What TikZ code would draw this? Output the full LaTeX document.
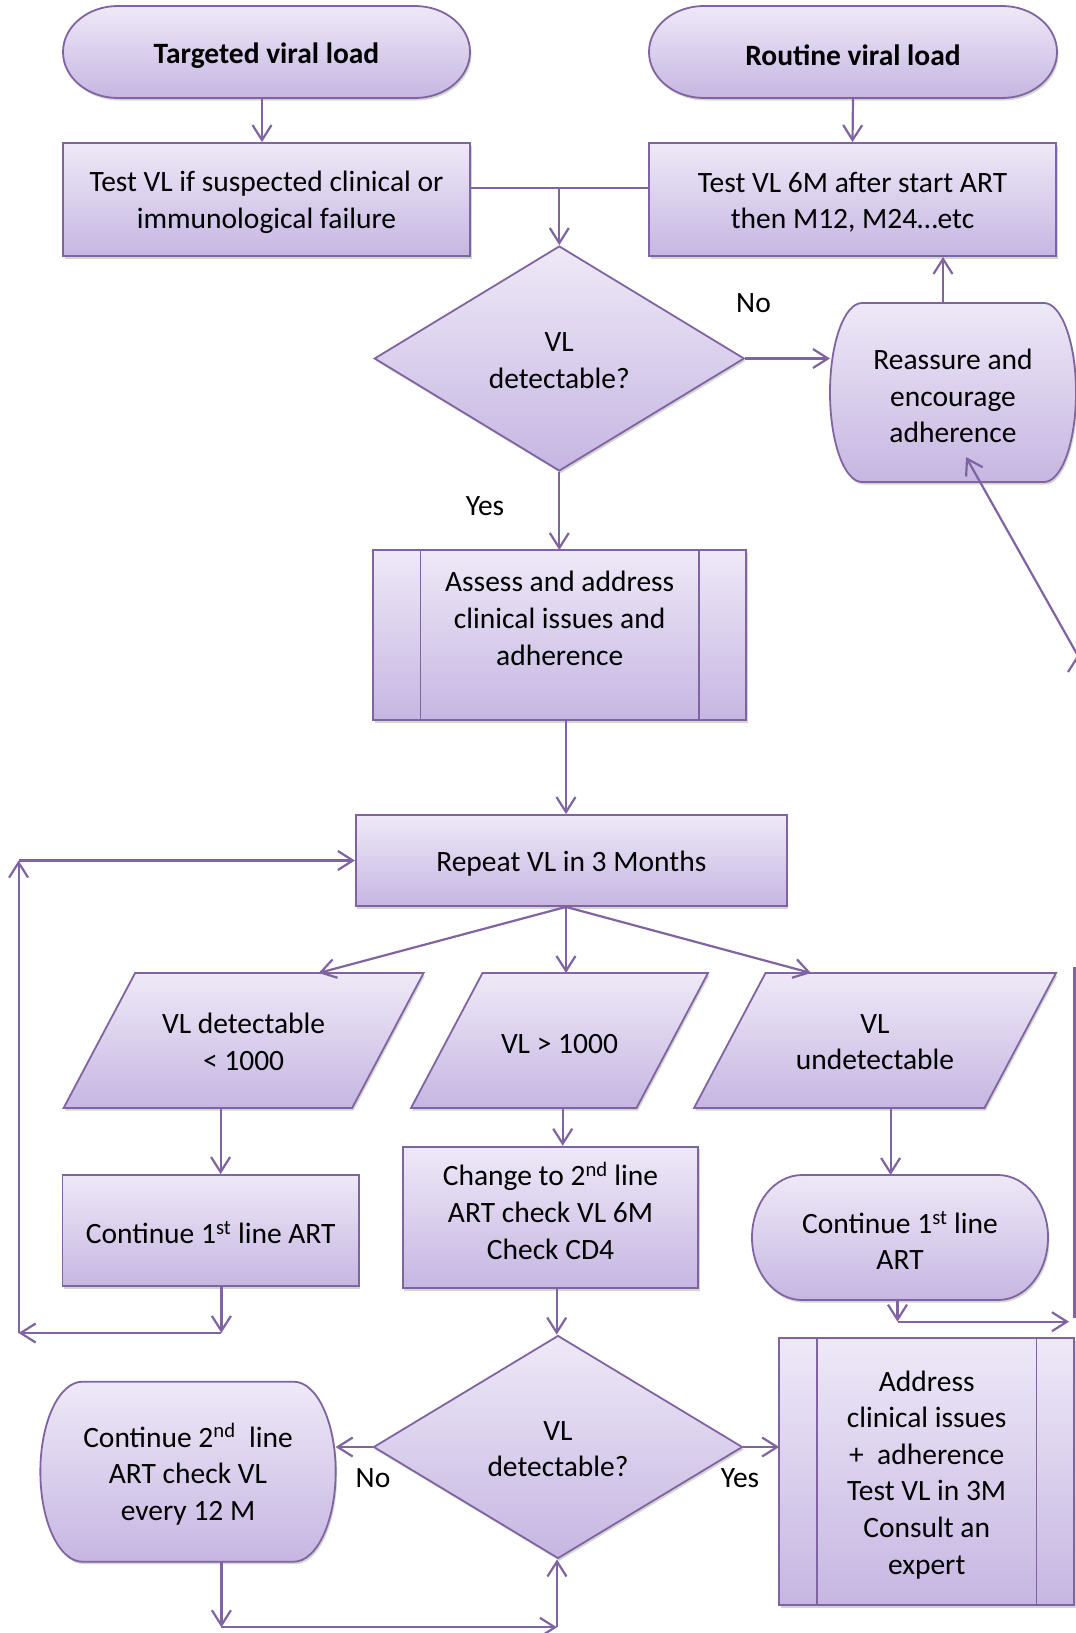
\documentclass[tikz,border=0pt]{standalone}
\usepackage{fontspec}
\setmainfont{Carlito}
\usetikzlibrary{arrows.meta,calc,shapes.geometric,shadows,backgrounds}

\definecolor{edge}{RGB}{128,100,162}
\definecolor{ftop}{RGB}{238,233,247}
\definecolor{fbot}{RGB}{198,182,226}

\tikzset{
  shapefill/.style={draw=edge, line width=1.8pt, top color=ftop, bottom color=fbot,
    drop shadow={shadow xshift=1.5pt, shadow yshift=-2.5pt, opacity=0.28, fill=black!60}},
  sz/.style 2 args={minimum width=#1pt, minimum height=#2pt},
  lowered/.style={execute at begin node={\rule{0pt}{27pt}}},
  anchorbox/.style={rectangle, draw=none, fill=none, inner sep=0pt, outer sep=0pt, align=center, lowered},
  boxnode/.style={rectangle, shapefill, inner sep=0pt, align=center, lowered},
  decision/.style={diamond, shapefill, inner sep=0pt, align=center},
  txt/.style={inner sep=0pt, align=center},
  lbl/.style={inner sep=0pt},
  conn/.style={draw=edge, line width=2.2pt},
  arr/.style={conn, -{Straight Barb[length=15pt,width=19pt]}},
}

% rectangle whose short sides are elliptical arcs (terminator / rounded process)
\newcommand\capsule[3]{%
  \path[shapefill] ($(#1.north west)+(#2,0)$) -- ($(#1.north east)+(-#2,0)$)
    arc[start angle=90, end angle=-90, x radius=#2pt, y radius=#3pt]
    -- ($(#1.south west)+(#2,0)$)
    arc[start angle=270, end angle=90, x radius=#2pt, y radius=#3pt] -- cycle;}
% predefined process: box with two inner vertical rules
\newcommand\procbox[2]{%
  \path[shapefill] (#1.north west) rectangle (#1.south east);
  \draw[draw=edge, line width=1.8pt] ($(#1.north west)+(#2,0)$) -- ($(#1.south west)+(#2,0)$);
  \draw[draw=edge, line width=1.8pt] ($(#1.north east)+(-#2,0)$) -- ($(#1.south east)+(-#2,0)$);}
% data box: parallelogram leaning right
\newcommand\slantbox[2]{%
  \path[shapefill] (#1.south west) -- ($(#1.north west)+(#2,0)$) -- (#1.north east)
    -- ($(#1.south east)+(-#2,0)$) -- cycle;}

\begin{document}
\begin{tikzpicture}[x=1pt, y=-1pt,
  every node/.style={font=\fontsize{29.5pt}{36.6pt}\selectfont}]
\useasboundingbox (0,0) rectangle (1076,1633);

% ---- shapes (outlined nodes and anchor boxes) ----
\node[anchorbox, sz={407}{92}] (t1) at (266.5,52) {\bfseries Targeted viral load};
\node[anchorbox, sz={408}{92}] (t2) at (853,52) {\bfseries Routine viral load};
\node[boxnode, sz={407}{113}] (b1) at (266.5,199.5) {};
\node[boxnode, sz={407}{113}] (b2) at (852.5,199.5) {};
\node[decision, sz={370}{225}] (d1) at (559.3,358.5) {};
\node[anchorbox, sz={246}{179}] (re) at (953,392.5) {};
\node[anchorbox, sz={373}{170}] (as) at (559.7,635) {};
\node[boxnode, sz={431}{91}] (rp) at (571.3,860.5) {Repeat VL in 3 Months};
\node[anchorbox, sz={360}{135}] (p1) at (243.6,1040.5) {};
\node[anchorbox, sz={297}{135}] (p2) at (559.5,1040.5) {VL > 1000};
\node[anchorbox, sz={362}{135}] (p3) at (875,1040.5) {};
\node[boxnode, sz={296.5}{111}] (c1) at (210.7,1230.5) {Continue 1\textsuperscript{st} line ART};
\node[boxnode, sz={295.6}{141.7}] (ch) at (550.5,1217.5) {};
\node[anchorbox, sz={296}{125}] (c3) at (900,1237.5) {};
\node[decision, sz={369}{223}] (d2) at (558,1447) {};
\node[anchorbox, sz={295.3}{180}] (c2) at (188,1471.7) {};
\node[anchorbox, sz={295}{267}] (ad) at (926.7,1471.7) {};

% ---- multi-line texts ----
\node[txt] (b1text) at ($(b1)+(0,2.6)$) {Test VL if suspected clinical or\\immunological failure};
\node[txt] (b2text) at ($(b2)+(0,2.6)$) {Test VL 6M after start ART\\then M12, M24…etc};
\node[txt] (d1text) at ($(d1)+(0,2)$) {VL\\detectable?};
\node[txt] (retext) at ($(re)+(0,3.5)$) {Reassure and\\encourage\\adherence};
\node[txt] (astext) at (559.7,618.3) {Assess and address\\clinical issues and\\adherence};
\node[txt] (p1text) at ($(p1)+(0,1.5)$) {VL detectable\\< 1000};
\node[txt] (p3text) at ($(p3)+(0,1.5)$) {VL\\undetectable};
\node[txt] (chtext) at ($(ch)+(0,-6.5)$) {Change to 2\textsuperscript{nd} line\\ART check VL 6M\\Check CD4};
\node[txt] (c3text) at ($(c3)+(0,3)$) {Continue 1\textsuperscript{st} line\\ART};
\node[txt] (d2text) at ($(d2)+(0,2)$) {VL\\detectable?};
\node[txt] (c2text) at ($(c2)+(0,2.6)$) {Continue 2\textsuperscript{nd}\ \ line\\ART check VL\\every 12 M};
\node[txt] (adtext) at ($(ad)+(0,3)$) {Address\\clinical issues\\+\ \ adherence\\Test VL in 3M\\Consult an\\expert};

% ---- outlines of the custom shapes ----
\begin{scope}[on background layer]
  \fill[white] (0,0) rectangle (1076,1633);
  \capsule{t1}{55}{46}
  \capsule{t2}{55}{46}
  \capsule{re}{32}{89.5}
  \procbox{as}{47.3}
  \slantbox{p1}{71.5}
  \slantbox{p2}{71.5}
  \slantbox{p3}{71.5}
  \capsule{c3}{50}{62.5}
  \capsule{c2}{42}{90}
  \procbox{ad}{37.7}
\end{scope}

% ---- branch labels ----
\node[lbl] (no1) at (753.5,303) {No};
\node[lbl] (yes1) at (485,506) {Yes};
\node[lbl] (no2) at (373,1478) {No};
\node[lbl] (yes2) at (740,1478) {Yes};

% ---- connectors ----
\coordinate (t1Out) at ($(t1.south)+(-4.5,0)$);
\draw[arr] (t1Out) -- (t1Out |- b1.north);
\draw[arr] (t2.south) -- (b2.north);
\coordinate (j1) at (559.3,188);
\draw[conn] (b1.east |- j1) -- (b2.west |- j1);
\draw[arr] (j1) -- (d1.north);
\draw[arr] (d1.east) -- (d1.east -| re.west);
\coordinate (reUp) at ($(re.north)+(-10,0)$);
\draw[arr] (reUp) -- (reUp |- b2.south);
\draw[arr] (d1.south) -- (d1.south |- as.north);
\coordinate (asOut) at ($(as.south)+(6.3,0)$);
\draw[arr] (asOut) -- (asOut |- rp.north);

\coordinate (rpOut) at ($(rp.south)+(-5.3,0)$);
\draw[arr] (rpOut) -- ($(p1.north)+(75,0)$);
\draw[arr] (rpOut) -- (rpOut |- p2.north);
\draw[arr] (rpOut) -- ($(p3.north)+(-64,0)$);

\coordinate (p1Out) at ($(p1.south)+(-23,0)$);
\draw[arr] (p1Out) -- (p1Out |- c1.north);
\coordinate (p2Out) at ($(p2.south)+(3.2,0)$);
\draw[arr] (p2Out) -- (p2Out |- ch.north);
\coordinate (p3Out) at ($(p3.south)+(15.6,0)$);
\draw[arr] (p3Out) -- (p3Out |- c3.north);

% loop back from the left column to the repeat test
\coordinate (c1Out) at ($(c1.south)+(10.7,0)$);
\coordinate (loopA) at (221.4,1333);
\coordinate (loopB) at (18.6,1333);
\coordinate (loopC) at (18.6,860.5);
\draw[arr] (c1Out) -- (loopA);
\draw[arr] (loopA) -- (loopB);
\draw[arr] (loopB) -- (loopC);
\draw[arr] (loopC) -- (rp.west);

\coordinate (chOut) at ($(ch.south)+(6.2,0)$);
\draw[arr] (chOut) -- (chOut |- d2.north);

% right column back up to reassurance
\coordinate (c3Out) at ($(c3.south)+(-2.5,0)$);
\coordinate (rgtA) at (897.5,1321.7);
\coordinate (rgtB) at (1069,1321.7);
\draw[arr] (c3Out) -- (rgtA);
\draw[arr] (rgtA) -- (rgtB);
\coordinate (edgeLow) at (1074.5,1318);
\coordinate (edgeHigh) at (1074.5,967);
\draw[conn] (edgeLow) -- (edgeHigh);
\coordinate (edgeUp) at (1077.5,760);
\coordinate (kink) at (1077.5,655);
\draw[arr] (edgeUp) -- (kink);
\coordinate (reTip) at ($(re.south)+(13,-25)$);
\draw[arr] (kink) -- (reTip);

\draw[arr] (d2.west) -- (d2.west -| c2.east);
\draw[arr] (d2.east) -- (d2.east -| ad.west);
\coordinate (c2Out) at ($(c2.south)+(33.4,0)$);
\coordinate (botA) at (221.4,1627.3);
\coordinate (botB) at (557,1627.3);
\draw[arr] (c2Out) -- (botA);
\draw[arr] (botA) -- (botB);
\draw[arr] (botB) -- (botB |- d2.south);
\end{tikzpicture}
\end{document}
